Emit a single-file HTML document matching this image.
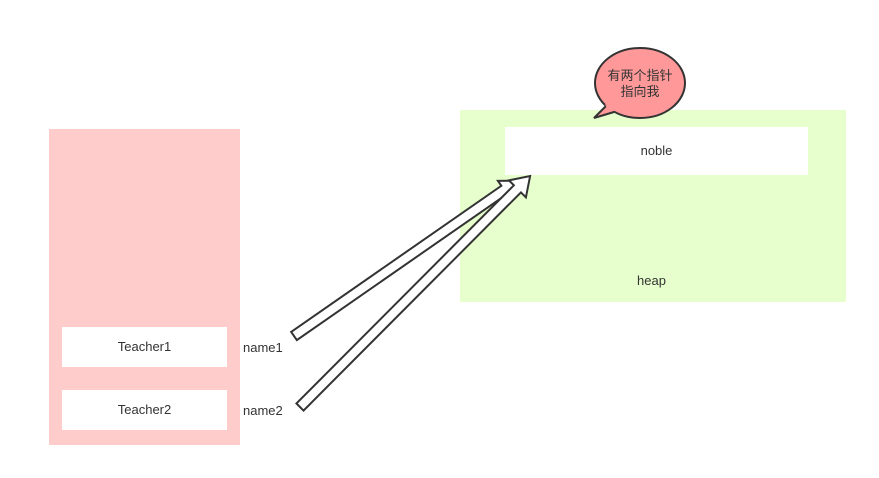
<!DOCTYPE html>
<html><head><meta charset="utf-8"><style>
body{margin:0;width:879px;height:478px;background:#fff;position:relative;overflow:hidden;font-family:"Liberation Sans","Noto Sans CJK SC",sans-serif;color:#333;font-size:13px}
.a{position:absolute}
</style></head><body>
<div class="a" style="left:49px;top:129px;width:191px;height:316px;background:#ffcccc"></div>
<div class="a" style="left:62px;top:327px;width:165px;height:40px;background:#fff;text-align:center;line-height:40px">Teacher1</div>
<div class="a" style="left:62px;top:390px;width:165px;height:40px;background:#fff;text-align:center;line-height:40px">Teacher2</div>
<div class="a" style="left:243px;top:340px">name1</div>
<div class="a" style="left:243px;top:403px">name2</div>
<div class="a" style="left:460px;top:110px;width:386px;height:192px;background:#e6ffcc"></div>
<div class="a" style="left:505px;top:127px;width:303px;height:48px;background:#fff;text-align:center;line-height:48px">noble</div>
<div class="a" style="left:637px;top:273px">heap</div>
<svg class="a" style="left:0;top:0" width="879" height="478">
<g fill="#fff" stroke="#333" stroke-width="2" stroke-linejoin="miter">
<polygon transform="translate(294,336) rotate(-34.8)" points="0,-5 256,-5 256,-11 272,0 256,11 256,5 0,5"/>
<polygon transform="translate(300,407) rotate(-45.1)" points="0,-5 308,-5 308,-12 326,0 308,12 308,5 0,5"/>
<ellipse cx="640" cy="83" rx="45" ry="35" fill="#ff9999"/>
<path d="M606,106 L594,118 L614,112" fill="#ff9999"/>
<path d="M605,104 L608,111 L616,111" fill="#ff9999" stroke="none"/>
</g>
<text x="640" y="80" text-anchor="middle" font-size="13" fill="#333" font-family="Liberation Sans,Noto Sans CJK SC,sans-serif">有两个指针</text>
<text x="640" y="96" text-anchor="middle" font-size="13" fill="#333" font-family="Liberation Sans,Noto Sans CJK SC,sans-serif">指向我</text>
</svg>
</body></html>
